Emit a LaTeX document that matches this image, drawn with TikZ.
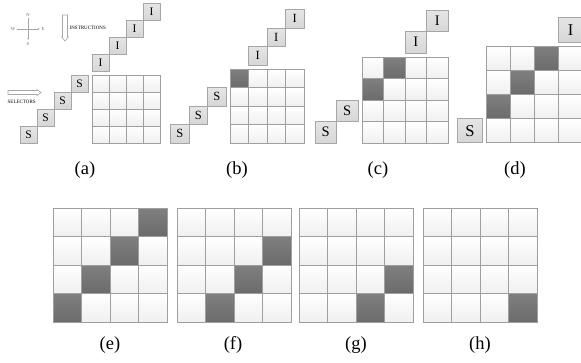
\documentclass[tikz,border=0pt]{standalone}
\usepackage{fontspec}
\setmainfont{Liberation Serif}
\usetikzlibrary{arrows.meta}
\tikzset{
 cellbox/.style={draw=gray!75, line width=0.9pt, top color=white, bottom color=gray!12, inner sep=0pt, outer sep=0pt},
 darkbox/.style={draw=gray!75, line width=0.9pt, top color=black!50, bottom color=black!58, inner sep=0pt, outer sep=0pt},
 letterbox/.style={draw=gray!70, line width=0.9pt, top color=gray!20, bottom color=gray!32, inner sep=0pt, outer sep=0pt},
 panellabel/.style={font=\fontsize{18.5}{18.5}\selectfont, inner sep=0pt},
 tinytext/.style={font=\fontsize{5}{5}\selectfont, inner sep=0pt},
 compasstext/.style={font=\fontsize{4.6}{4.6}\selectfont, inner sep=0pt, text=gray!80!black},
 hollowarrow/.style={draw=gray!70, line width=0.6pt, fill=white},
}
\newcommand\cellgrid[4]{%
 \foreach \i in {0,...,3}{\foreach \j in {0,...,3}{
  \node[cellbox, minimum size=#4pt] (#1-\i-\j) at ({#2+#4*\i+#4/2},{#3+#4*\j+#4/2}) {};}}}
\newcommand\darkcells[5]{%
 \foreach \i/\j in {#5}{\node[darkbox, minimum size=#4pt] (#1-d-\i-\j) at ({#2+#4*\i+#4/2},{#3+#4*\j+#4/2}) {};}}
\newcommand\letters[6]{%
 \foreach \r in {#5,...,3}{
  \node[letterbox, minimum size=#4pt, font=\fontsize{#6}{#6}\selectfont] (#1-s-\r) at ({#2-4-#4*(\r-#5)-#4/2},{#3+#4*\r+#4/2}) {S};
  \node[letterbox, minimum size=#4pt, font=\fontsize{#6}{#6}\selectfont] (#1-i-\r) at ({#2+#4*\r+#4/2},{#3-4-#4*(\r-#5)-#4/2}) {I};}}
\begin{document}
\begin{tikzpicture}[x=1pt,y=-1pt]
\useasboundingbox (0,0) rectangle (581,362);
% compass
\node[compasstext] (cn) at (28,14.5) {N};
\node[compasstext] (cw) at (13,29) {W};
\node[compasstext] (ce) at (43,29) {E};
\node[compasstext] (cs) at (28,44) {S};
\coordinate (cwl) at (17,29);
\coordinate (cel) at (40,29);
\coordinate (cnl) at (28,18);
\coordinate (csl) at (28,40);
\draw[gray!70, line width=0.4pt, -{Latex[length=2pt,width=1.8pt]}] (cwl) -- (cel);
\draw[gray!70, line width=0.4pt, -{Latex[length=2pt,width=1.8pt]}] (cnl) -- (csl);
% instructions arrow
\draw[hollowarrow] (62.5,15) -- (67.5,15) -- (67.5,37) -- (68.3,37) -- (65,41) -- (61.7,37) -- (62.5,37) -- cycle;
\node[tinytext, anchor=west] (instr) at (69.5,28) {INSTRUCTIONS};
% selectors arrow
\draw[hollowarrow] (8,90.5) -- (37,90.5) -- (37,89.5) -- (41,92.5) -- (37,95.5) -- (37,94.5) -- (8,94.5) -- cycle;
\node[tinytext, anchor=west] (sel) at (7.5,102) {SELECTORS};
% panel a
\cellgrid{a}{92}{75}{17}
\letters{a}{92}{75}{17}{0}{11.5}
% panel b
\cellgrid{b}{230}{69}{18.5}
\darkcells{b}{230}{69}{18.5}{0/0}
\letters{b}{230}{69}{18.5}{1}{12.5}
% panel c
\cellgrid{c}{362}{57}{21.5}
\darkcells{c}{362}{57}{21.5}{1/0,0/1}
\letters{c}{362}{57}{21.5}{2}{14.5}
% panel d
\cellgrid{d}{486}{46}{24.2}
\darkcells{d}{486}{46}{24.2}{2/0,1/1,0/2}
\letters{d}{486}{46}{24.2}{3}{16.5}
% bottom panels
\cellgrid{e}{53}{208}{28.5}
\darkcells{e}{53}{208}{28.5}{3/0,2/1,1/2,0/3}
\cellgrid{f}{177}{208}{28.5}
\darkcells{f}{177}{208}{28.5}{3/1,2/2,1/3}
\cellgrid{g}{299}{208}{28.5}
\darkcells{g}{299}{208}{28.5}{3/2,2/3}
\cellgrid{h}{423}{208}{28.5}
\darkcells{h}{423}{208}{28.5}{3/3}
% labels
\node[panellabel] (la) at (85,170) {(a)};
\node[panellabel] (lb) at (237,170) {(b)};
\node[panellabel] (lc) at (378,170) {(c)};
\node[panellabel] (ld) at (515,170) {(d)};
\node[panellabel] (le) at (110,345) {(e)};
\node[panellabel] (lf) at (233,345) {(f)};
\node[panellabel] (lg) at (356,345) {(g)};
\node[panellabel] (lh) at (480,345) {(h)};
\end{tikzpicture}
\end{document}
